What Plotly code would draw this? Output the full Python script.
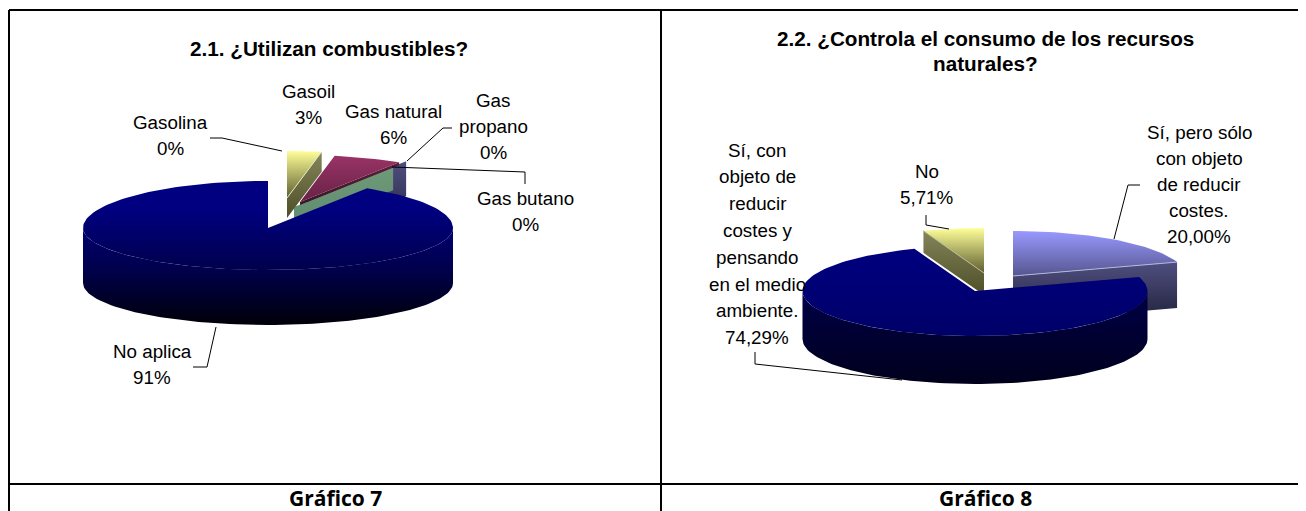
import math
import plotly.graph_objects as go

# ---------- data ----------
left_categories = ["Gasolina", "Gasoil", "Gas natural", "Gas propano", "Gas butano", "No aplica"]
left_values = [0, 3, 6, 0, 0, 91]
right_categories = ["Sí, pero sólo con objeto de reducir costes.",
                    "Sí, con objeto de reducir costes y pensando en el medio ambiente.", "No"]
right_values = [20.00, 74.29, 5.71]

TOP = {"yellow": ("#FFFF99", "#5e5e30"), "plum": ("#993366", "#662244"),
       "peri": ("#9999FF", "#55558f"), "navy2": ("#000080", "#000068")}
WALL = {"yellow": ("#85855a", "#4e4e28"), "plum": ("#5c1f3d", "#3d1428"),
        "green": ("#6f9a78", "#5e8a70"), "peri": ("#4f4f80", "#20203a"),
        "navy2": ("#000048", "#00001c")}
# one continuous shading for the whole left pie, top face and rim alike
NAVY_SHADE = [[0, "#000080"], [0.2, "#000080"], [0.62, "#00004c"], [1, "#000008"]]

FONT = "Liberation Sans"
fig = go.Figure()


def pt(p, deg):
    a = math.radians(deg)
    ry = p["ry"] if math.cos(a) >= 0 else p["ry_front"]
    return p["cx"] + p["rx"] * math.sin(a), p["cy"] - ry * math.cos(a)


def arc(p, a0, a1, ox=0, oy=0, dz=0):
    n = max(2, int(abs(a1 - a0) / 2) + 1)
    res = [pt(p, a0 + (a1 - a0) * i / (n - 1)) for i in range(n)]
    return [(x + ox, y + oy + dz) for x, y in res]


def poly(points, colors, name, span=None):
    xs = [q[0] for q in points] + [points[0][0]]
    ys = [q[1] for q in points] + [points[0][1]]
    scale = colors if span else [[0, colors[0]], [1, colors[1]]]
    start, stop = span if span else (min(ys), max(ys))
    edge = scale[0][1]
    fig.add_trace(go.Scatter(
        x=xs, y=ys, mode="lines", fill="toself", name=name, hoverinfo="name",
        line=dict(width=0, color=edge),
        fillgradient=dict(type="vertical", start=start, stop=stop, colorscale=scale),
    ))


def top_face(p, a0, a1, off, color, name, span=None):
    ox, oy = off
    apex = (p["cx"] + ox, p["cy"] + oy)
    poly([apex] + arc(p, a0, a1, ox, oy), color if span else TOP[color], name, span)


def wall(p, deg, off, depth, color, name):
    ox, oy = off
    apex = (p["cx"] + ox, p["cy"] + oy)
    rim = arc(p, deg, deg, ox, oy)[0]
    poly([apex, rim, (rim[0], rim[1] + depth), (apex[0], apex[1] + depth)], WALL[color], name)


def edge(p, deg, off, color, name):
    ox, oy = off
    rim = arc(p, deg, deg, ox, oy)[0]
    fig.add_trace(go.Scatter(x=[p["cx"] + ox, rim[0]], y=[p["cy"] + oy, rim[1]], mode="lines",
                             name=name, hoverinfo="skip", line=dict(width=1, color=color)))


def rim_side(p, a0, a1, depth, color, name, span=None):
    upper = arc(p, a0, a1)
    lower = arc(p, a1, a0, dz=depth)
    poly(upper + lower, color if span else WALL[color], name, span)


def cum_angles(values):
    total = sum(values)
    out, c = [], 0
    for v in values:
        out.append((c / total * 360, (c + v) / total * 360))
        c += v
    return out


# ---------- left pie ----------
pL = dict(cx=268, cy=228, rx=185, ry=47, ry_front=42)
angL = cum_angles(left_values)
wall(pL, angL[4][1], (39, -27), 35, "peri", left_categories[4])
wall(pL, angL[3][1], (26, -21), 23, "green", left_categories[3])
wall(pL, angL[1][1], (19, -30), 20, "yellow", left_categories[1])
top_face(pL, *angL[1], (19, -30), "yellow", left_categories[1])
edge(pL, angL[1][1], (19, -30), "#e4e4c4", left_categories[1])
wall(pL, angL[2][1], (32, -26), 3, "plum", left_categories[2])
top_face(pL, *angL[2], (32, -26), "plum", left_categories[2])
rim_side(pL, 90, 270, 55, NAVY_SHADE, left_categories[5], span=(180, 325))
top_face(pL, *angL[5], (0, 0), NAVY_SHADE, left_categories[5], span=(180, 325))

# ---------- right pie ----------
pR = dict(cx=975, cy=291, rx=172.5, ry=45, ry_front=45)
angR = cum_angles(right_values)
wall(pR, angR[0][1], (38, -15), 46, "peri", right_categories[0])
top_face(pR, *angR[0], (38, -15), "peri", right_categories[0])
edge(pR, angR[0][1], (38, -15), "#b4b4dc", right_categories[0])
wall(pR, angR[2][0], (9, -18), 22, "yellow", right_categories[2])
top_face(pR, *angR[2], (9, -18), "yellow", right_categories[2])
edge(pR, angR[2][0], (9, -18), "#b8b898", right_categories[2])
rim_side(pR, 90, 270, 48, "navy2", right_categories[1])
top_face(pR, *angR[1], (0, 0), "navy2", right_categories[1])

# ---------- text ----------
annotations = []


def label(lines, x, y0, step=26.0, size=18.8, bold=False, family=FONT):
    for i, t in enumerate(lines):
        annotations.append(dict(
            x=x, y=y0 + i * step, xref="x", yref="y", text=f"<b>{t}</b>" if bold else t,
            showarrow=False, xanchor="center", yanchor="middle",
            font=dict(family=family, size=size, color="#000000")))


label(["2.1. ¿Utilizan combustibles?"], 329, 48, size=20.7, bold=True)
label(["2.2. ¿Controla el consumo de los recursos", "naturales?"], 985, 38, step=25.5, size=20.7, bold=True)
label(["Gasolina", "0%"], 170, 122)
label(["Gasoil", "3%"], 308, 91)
label(["Gas natural", "6%"], 393, 111)
label(["Gas", "propano", "0%"], 493, 100)
label(["Gas butano", "0%"], 525, 198)
label(["No aplica", "91%"], 152, 351)
label(["Sí, pero sólo", "con objeto", "de reducir", "costes.", "20,00%"], 1199, 132)
label(["No", "5,71%"], 927, 171)
label(["Sí, con", "objeto de", "reducir", "costes y", "pensando", "en el medio", "ambiente.", "74,29%"],
      757, 150, step=26.8)
label(["Gráfico 7"], 335, 498, size=21, bold=True, family="Open Sans")
label(["Gráfico 8"], 985, 498, size=21, bold=True, family="Open Sans")

# ---------- frame & leader lines ----------
shapes = []


def seg(x0, y0, x1, y1, w=2.5):
    shapes.append(dict(type="line", xref="x", yref="y", x0=x0, y0=y0, x1=x1, y1=y1,
                       line=dict(color="#000000", width=w)))


def path(points):
    for a, b in zip(points, points[1:]):
        seg(*a, *b, w=1)


seg(9, 10, 1306, 10, 2)
seg(9, 10, 9, 511, 2)
seg(661, 10, 661, 511, 2)
seg(9, 484, 1306, 484, 2)
path([(210, 138), (222, 138), (282, 151)])
path([(452, 128), (443, 128), (407, 161)])
path([(392, 167), (525, 172), (525, 184)])
path([(216, 327), (207, 367), (193, 367)])
path([(1140, 185), (1128, 185), (1114, 239)])
path([(926, 215), (926, 225), (949, 229)])
path([(755, 352), (755, 364), (902, 380)])

# the page keeps an 8px body margin, so the plot covers x 8..1306, y 8..511 of the window
fig.update_layout(
    width=1298, height=503, margin=dict(l=0, r=0, t=0, b=0),
    paper_bgcolor="white", plot_bgcolor="white", showlegend=False,
    xaxis=dict(range=[8, 1306], visible=False, fixedrange=True),
    yaxis=dict(range=[511, 8], visible=False, fixedrange=True),
    annotations=annotations, shapes=shapes,
)
fig.write_html("out.html", config={"displayModeBar": False})
